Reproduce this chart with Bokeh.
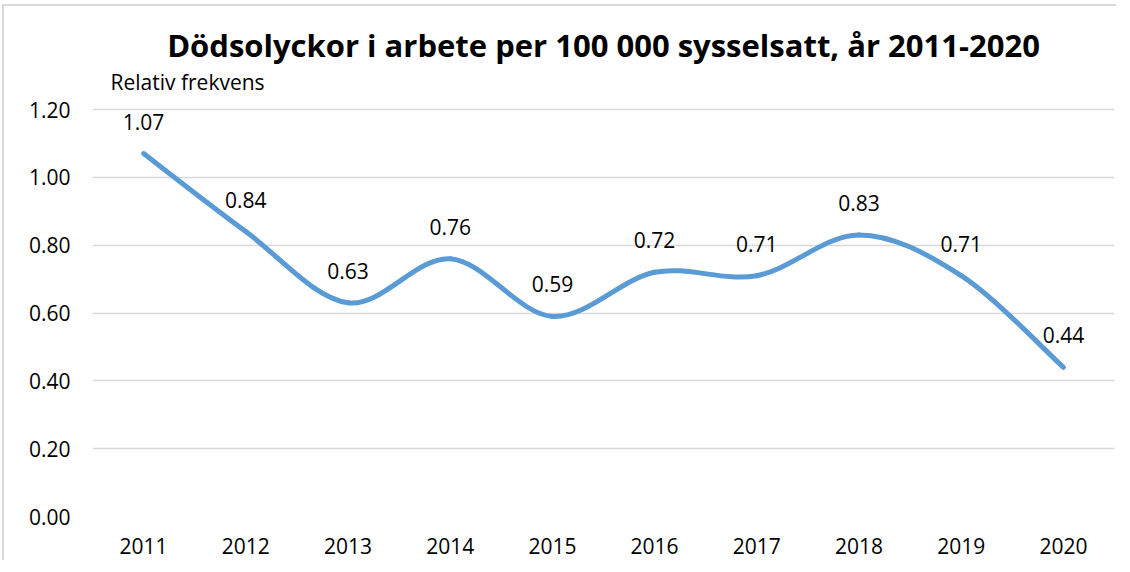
from bokeh.plotting import figure
from bokeh.models import FixedTicker, Label, ColumnDataSource, Range1d
from bokeh.core.properties import value
from bokeh.embed import file_html
from bokeh.resources import INLINE

years = ["2011", "2012", "2013", "2014", "2015", "2016", "2017", "2018", "2019", "2020"]
values = [1.07, 0.84, 0.63, 0.76, 0.59, 0.72, 0.71, 0.83, 0.71, 0.44]
y_ticks = [0.0, 0.2, 0.4, 0.6, 0.8, 1.0, 1.2]
title_text = "Dödsolyckor i arbete per 100 000 sysselsatt, år 2011-2020"
y_label = "Relativ frekvens"

FONT = "Open Sans"
xs = [i + 0.5 for i in range(len(years))]

# layout: the plot area extends above 1.20 so the titles can sit inside it
H, TOP, BOTTOM = 556, 13, 46
frame_h = H - TOP - BOTTOM            # 497 px
axis_px = 407                          # px spanned by 0.00 .. 1.20
ppu = axis_px / 1.2
y_end = frame_h / ppu

p = figure(width=1114, height=H, output_backend="svg", toolbar_location=None,
           x_range=Range1d(0, len(years)), y_range=Range1d(0, y_end), title=None,
           min_border_left=88, min_border_right=4, min_border_top=TOP, min_border_bottom=BOTTOM)
p.outline_line_color = None
p.background_fill_color = "white"
p.border_fill_color = "white"

# titles
p.add_layout(Label(x=len(years) / 2, y=1.2 + 65 / ppu, text=title_text, text_font=FONT,
                   text_font_size="31px", text_font_style="bold", text_color="#000000",
                   text_align="center", text_baseline="middle"))
p.add_layout(Label(x=0, y=1.2 + 28 / ppu, x_offset=18, text=y_label, text_font=FONT,
                   text_font_size="21px", text_color="#000000",
                   text_align="left", text_baseline="middle"))

# axes
p.xaxis.ticker = FixedTicker(ticks=xs)
p.xaxis.major_label_overrides = {x: y for x, y in zip(xs, years)}
p.yaxis.ticker = FixedTicker(ticks=y_ticks)
p.yaxis.major_label_overrides = {t: f"{t:.2f}" for t in y_ticks}
for ax in (p.xaxis, p.yaxis):
    ax.axis_line_color = None
    ax.major_tick_line_color = None
    ax.minor_tick_line_color = None
    ax.major_label_text_font = FONT
    ax.major_label_text_font_size = "21px"
    ax.major_label_text_color = "#000000"
p.xaxis.major_label_standoff = 15
p.yaxis.major_label_standoff = 16
p.xgrid.grid_line_color = None
p.ygrid.grid_line_color = "#d9d9d9"
p.ygrid.grid_line_width = 1.5

# smoothed line (Excel-style Bezier segments)
n = len(values)
x0, y0, x1, y1, cx0, cy0, cx1, cy1 = [], [], [], [], [], [], [], []
for i in range(n - 1):
    pm = max(i - 1, 0)
    pp = min(i + 2, n - 1)
    x0.append(xs[i]); y0.append(values[i])
    x1.append(xs[i + 1]); y1.append(values[i + 1])
    cx0.append(xs[i] + (xs[i + 1] - xs[pm]) / 6)
    cy0.append(values[i] + (values[i + 1] - values[pm]) / 6)
    cx1.append(xs[i + 1] - (xs[pp] - xs[i]) / 6)
    cy1.append(values[i + 1] - (values[pp] - values[i]) / 6)
p.bezier(x0=x0, y0=y0, x1=x1, y1=y1, cx0=cx0, cy0=cy0, cx1=cx1, cy1=cy1,
         line_color="#5B9BD5", line_width=5, line_cap="round")

src = ColumnDataSource(dict(x=xs, y=values, t=[f"{v:.2f}" for v in values]))
p.text(x="x", y="y", text="t", source=src, text_font=value(FONT), text_font_size="21px",
       text_color="#000000", text_align="center", text_baseline="middle", y_offset=-32)

p.styles = {"border-left": "2px solid #d9d9d9", "border-top": "2px solid #d9d9d9",
            "margin-left": "2px", "margin-top": "4px"}

open("out.html", "w").write(file_html(p, INLINE))
